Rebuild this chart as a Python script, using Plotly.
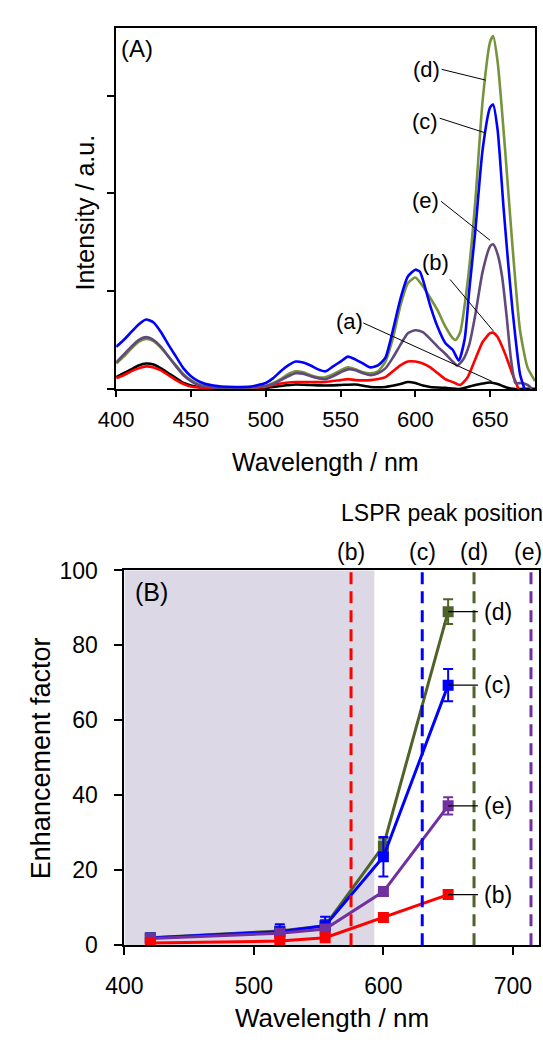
import plotly.graph_objects as go

W, H = 543, 1044
FONT = "Liberation Sans, Arial, sans-serif"

# ---------------- (A) emission spectra ----------------
wl_a = [400, 405, 410, 415, 420, 425, 430, 435, 440, 445, 450, 455, 460, 470, 480, 490, 500, 510, 520,
        530, 540, 550, 560, 570, 580, 590, 595, 600, 605, 610, 620, 630, 635, 640, 645, 650, 655, 660, 665, 672, 680]
int_a = [0.12, 0.16, 0.20, 0.24, 0.26, 0.25, 0.21, 0.16, 0.11, 0.06, 0.035, 0.02, 0.01, 0.005, 0.005, 0.005, 0.01,
         0.03, 0.045, 0.04, 0.035, 0.04, 0.045, 0.02, 0.02, 0.05, 0.07, 0.06, 0.035, 0.02, 0.01, 0.0, 0.02, 0.04,
         0.055, 0.065, 0.05, 0.02, 0.0, 0.0, 0.0]

wl_b = [400, 405, 410, 415, 420, 425, 430, 435, 440, 445, 450, 455, 460, 470, 480, 490, 500, 505, 510, 520, 530,
        540, 550, 555, 560, 570, 580, 585, 590, 595, 600, 605, 610, 615, 620, 625, 630, 635, 640, 645, 650, 652,
        655, 660, 665, 669]
int_b = [0.11, 0.14, 0.18, 0.21, 0.23, 0.22, 0.19, 0.14, 0.09, 0.05, 0.025, 0.015, 0.01, 0.005, 0.005, 0.01, 0.02,
         0.04, 0.055, 0.07, 0.07, 0.07, 0.09, 0.10, 0.09, 0.09, 0.12, 0.18, 0.24, 0.28, 0.28, 0.26, 0.22, 0.16,
         0.10, 0.07, 0.04, 0.12, 0.30, 0.48, 0.57, 0.575, 0.53, 0.36, 0.15, 0.0]

wl_c = [400, 405, 410, 415, 420, 425, 430, 435, 440, 445, 450, 455, 460, 465, 470, 480, 490, 495, 500, 505, 510,
        515, 520, 525, 530, 535, 540, 545, 550, 555, 560, 565, 570, 575, 580, 585, 590, 595, 600, 603, 605, 610,
        615, 620, 625, 629, 633, 636, 640, 645, 650, 652, 655, 659, 662, 665, 670, 673]
int_c = [0.43, 0.50, 0.58, 0.66, 0.71, 0.68, 0.58, 0.45, 0.33, 0.21, 0.13, 0.08, 0.05, 0.035, 0.025, 0.02, 0.025,
         0.04, 0.06, 0.11, 0.18, 0.24, 0.28, 0.27, 0.24, 0.20, 0.18, 0.23, 0.28, 0.33, 0.30, 0.26, 0.22, 0.24,
         0.32, 0.60, 0.92, 1.15, 1.22, 1.20, 1.12, 0.85, 0.63, 0.47, 0.40, 0.29, 0.51, 1.00, 1.60, 2.45, 2.88,
         2.91, 2.65, 1.85, 1.30, 0.80, 0.15, 0.0]

wl_d = [400, 405, 410, 415, 420, 425, 430, 435, 440, 445, 450, 455, 460, 470, 480, 490, 500, 505, 510, 515, 520,
        525, 530, 535, 540, 545, 550, 555, 560, 565, 570, 575, 580, 585, 590, 595, 600, 605, 610, 615, 620, 625,
        627, 630, 635, 640, 645, 650, 652, 655, 660, 665, 670, 675, 680]
int_d = [0.26, 0.33, 0.41, 0.48, 0.51, 0.49, 0.42, 0.33, 0.24, 0.15, 0.09, 0.05, 0.03, 0.015, 0.01, 0.015, 0.03,
         0.06, 0.10, 0.15, 0.18, 0.17, 0.14, 0.12, 0.12, 0.15, 0.19, 0.22, 0.20, 0.17, 0.16, 0.18, 0.28, 0.52,
         0.85, 1.08, 1.14, 1.05, 0.93, 0.80, 0.64, 0.52, 0.50, 0.58, 1.10, 1.90, 2.95, 3.55, 3.61, 3.35, 2.45,
         1.45, 0.60, 0.22, 0.08]

wl_e = [400, 405, 410, 415, 420, 425, 430, 435, 440, 445, 450, 455, 460, 470, 480, 490, 500, 505, 510, 515, 520,
        525, 530, 535, 540, 545, 550, 555, 560, 565, 570, 575, 580, 585, 590, 595, 600, 605, 610, 615, 620, 625,
        628, 632, 636, 640, 645, 650, 652, 655, 658, 661, 664, 667, 671, 675, 678]
int_e = [0.27, 0.35, 0.43, 0.50, 0.53, 0.50, 0.43, 0.33, 0.23, 0.14, 0.08, 0.04, 0.025, 0.01, 0.01, 0.015, 0.03,
         0.05, 0.09, 0.13, 0.16, 0.155, 0.13, 0.11, 0.10, 0.13, 0.17, 0.20, 0.19, 0.16, 0.14, 0.16, 0.21, 0.32,
         0.45, 0.57, 0.60, 0.58, 0.51, 0.43, 0.36, 0.28, 0.24, 0.30, 0.45, 0.75, 1.20, 1.46, 1.48, 1.38, 1.15,
         0.75, 0.30, 0.06, 0.06, 0.04, 0.0]

# ---------------- (B) enhancement factors ----------------
ex_wl = [420, 520, 555, 600, 650]
ef_b = [0.6, 1.1, 2.0, 7.4, 13.5]
ef_c = [1.9, 3.6, 5.2, 23.6, 69.4]
ef_c_err = [1.0, 2.0, 2.4, 5.3, 4.3]
ef_d = [2.0, 3.8, 5.2, 26.5, 89.0]
ef_d_err = [0.8, 1.0, 1.5, 2.0, 3.3]
ef_e = [1.8, 3.2, 4.3, 14.3, 37.2]
ef_e_err = [0.6, 0.8, 1.0, 1.0, 2.3]

lspr_labels = ["(b)", "(c)", "(d)", "(e)"]
lspr_peaks = [575, 630, 670, 714]
shade_limit = 593

C_TOP = {"a": "#000000", "b": "#FF0000", "c": "#0000FF", "d": "#77933C", "e": "#604A7B"}
C_BOT = {"b": "#FF0000", "c": "#0000FF", "d": "#4F6228", "e": "#7030A0"}


def px_x(p):
    return p / W


def px_y(p):
    return 1 - p / H


def txt_font(size):
    return dict(family=FONT, size=size, color="black")


fig = go.Figure()

# spectra
for key, wl, val in [("a", wl_a, int_a), ("b", wl_b, int_b), ("d", wl_d, int_d),
                     ("e", wl_e, int_e), ("c", wl_c, int_c)]:
    fig.add_trace(go.Scatter(x=wl, y=val, mode="lines", xaxis="x", yaxis="y",
                             line=dict(color=C_TOP[key], width=2.6, shape="spline", smoothing=0.6),
                             showlegend=False, hoverinfo="skip"))

# enhancement factor curves
for key, vals, err in [("d", ef_d, ef_d_err), ("c", ef_c, ef_c_err), ("e", ef_e, ef_e_err), ("b", ef_b, None)]:
    tr = dict(x=ex_wl, y=vals, mode="lines+markers", xaxis="x2", yaxis="y2",
              line=dict(color=C_BOT[key], width=3),
              marker=dict(symbol="square", size=11, color=C_BOT[key]),
              showlegend=False, hoverinfo="skip")
    if err is not None:
        tr["error_y"] = dict(type="data", array=err, color=C_BOT[key], thickness=2, width=5)
    fig.add_trace(go.Scatter(**tr))

shapes = []
# shaded excitation region
shapes.append(dict(type="rect", xref="x2", yref="y2 domain", x0=400, x1=shade_limit, y0=0, y1=1,
                   fillcolor="#DDD8E5", line=dict(width=0), layer="below"))
# LSPR peak markers
for lab, pk, col in zip(lspr_labels, lspr_peaks, [C_BOT["b"], C_BOT["c"], C_BOT["d"], C_BOT["e"]]):
    shapes.append(dict(type="line", xref="x2", yref="y2 domain", x0=pk, x1=pk, y0=0, y1=1,
                       line=dict(color=col, width=3, dash="12px,7px"), layer="above"))

# leader lines for spectrum labels
top_leaders = [((617.6, 3.27), (647.0, 3.16)),
               ((616.3, 2.77), (646.8, 2.62)),
               ((617.2, 1.92), (650.0, 1.52)),
               ((623.2, 1.12), (652.3, 0.59)),
               ((565.2, 0.675), (651.2, 0.077))]
for (x0, y0), (x1, y1) in top_leaders:
    shapes.append(dict(type="line", xref="x", yref="y", x0=x0, y0=y0, x1=x1, y1=y1,
                       line=dict(color="black", width=1)))

# leader lines for enhancement series labels
for v in [ef_d[-1], ef_c[-1], ef_e[-1], ef_b[-1]]:
    shapes.append(dict(type="line", xref="x2", yref="y2", x0=ex_wl[-1], x1=673, y0=v, y1=v,
                       line=dict(color="black", width=1.2)))

annotations = []
for txt, x, y in [("(d)", 607.6, 3.27), ("(c)", 606.6, 2.74), ("(e)", 606.6, 1.93),
                  ("(b)", 613.5, 1.29), ("(a)", 556.0, 0.69)]:
    annotations.append(dict(text=txt, x=x, y=y, xref="x", yref="y", xanchor="center", yanchor="middle",
                            showarrow=False, font=txt_font(22)))

for txt, v in [("(d)", ef_d[-1]), ("(c)", ef_c[-1]), ("(e)", ef_e[-1]), ("(b)", ef_b[-1])]:
    annotations.append(dict(text=txt, x=676, y=v, xref="x2", yref="y2", xanchor="left", yanchor="middle",
                            showarrow=False, font=txt_font(23)))

# peak labels above the panel; the last one is kept inside the page edge
for i, (lab, pk) in enumerate(zip(lspr_labels, lspr_peaks)):
    last = i == len(lspr_labels) - 1
    annotations.append(dict(text=lab, x=pk - (2 if last else 0), y=px_y(552.5), xref="x2", yref="paper",
                            xanchor="center", yanchor="middle", showarrow=False, font=txt_font(23)))

annotations += [
    dict(text="LSPR peak position", x=px_x(332), y=px_y(513), xref="paper", yref="paper",
         xanchor="left", yanchor="middle", showarrow=False, font=txt_font(23)),
    dict(text="(A)", x=px_x(104), y=px_y(36), xref="paper", yref="paper", xanchor="left", yanchor="middle",
         showarrow=False, font=txt_font(24)),
    dict(text="(B)", x=px_x(118), y=px_y(594), xref="paper", yref="paper", xanchor="left", yanchor="middle",
         showarrow=False, font=txt_font(25)),
    dict(text="Intensity / a.u.", x=px_x(68), y=px_y(205), xref="paper", yref="paper", textangle=-90,
         xanchor="center", yanchor="middle", showarrow=False, font=txt_font(25)),
    dict(text="Wavelength / nm", x=px_x(317.7), y=px_y(460), xref="paper", yref="paper",
         xanchor="center", yanchor="middle", showarrow=False, font=txt_font(25)),
    dict(text="Enhancement factor", x=px_x(23), y=px_y(764), xref="paper", yref="paper", textangle=-90,
         xanchor="center", yanchor="middle", showarrow=False, font=txt_font(27)),
    dict(text="Wavelength / nm", x=px_x(324), y=px_y(1031), xref="paper", yref="paper",
         xanchor="center", yanchor="middle", showarrow=False, font=txt_font(26)),
]

axis_common = dict(showline=True, linecolor="black", linewidth=2, mirror=True, showgrid=False,
                   zeroline=False, ticks="outside", tickcolor="black", tickwidth=1.5)

fig.update_layout(
    width=W, height=H,
    margin=dict(l=0, r=0, t=0, b=0),
    paper_bgcolor="white", plot_bgcolor="rgba(0,0,0,0)",
    showlegend=False,
    xaxis=dict(domain=[px_x(100.7), px_x(534.7)], range=[400, 680], anchor="y",
               tickvals=[400, 450, 500, 550, 600, 650], ticklen=6, ticklabelstandoff=4,
               tickfont=txt_font(22), **axis_common),
    yaxis=dict(domain=[px_y(385.5), px_y(15.7)], range=[0, 3.69], anchor="x",
               tickvals=[0, 1, 2, 3], showticklabels=False, ticklen=7, **axis_common),
    xaxis2=dict(domain=[px_x(109.3), px_x(538.6)], range=[400, 720], anchor="y2",
                tickvals=[400, 500, 600, 700], ticklen=8, ticklabelstandoff=11,
                tickfont=txt_font(23), **axis_common),
    yaxis2=dict(domain=[px_y(956), px_y(571.7)], range=[0, 100], anchor="x2",
                tickvals=[0, 20, 40, 60, 80, 100], ticklen=8, ticklabelstandoff=12,
                tickfont=txt_font(23), **axis_common),
    shapes=shapes,
    annotations=annotations,
)

fig.write_html("out.html")
